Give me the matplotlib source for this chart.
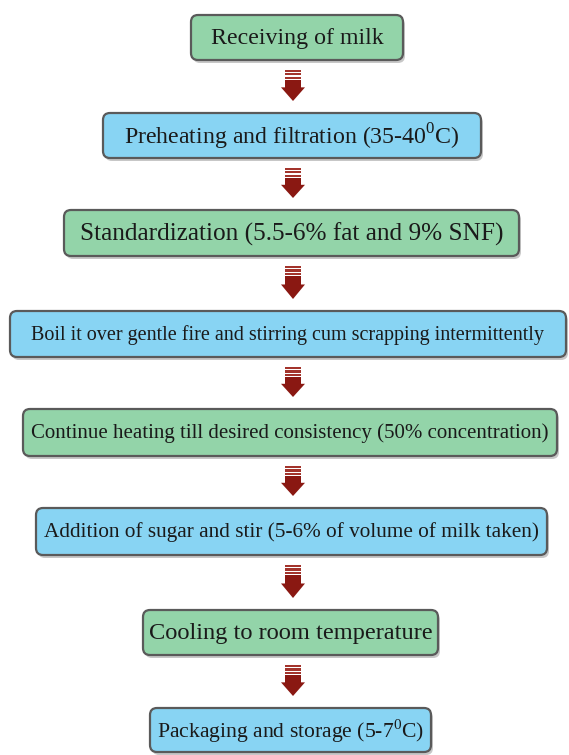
import matplotlib.pyplot as plt
from matplotlib.patches import FancyBboxPatch, Polygon, Rectangle

plt.rcParams['font.family'] = 'Liberation Serif'
plt.rcParams['mathtext.fontset'] = 'custom'
plt.rcParams['mathtext.rm'] = 'Liberation Serif'

# flow steps, top to bottom
steps = [
    "Receiving of milk",
    "Preheating and filtration (35-40$^{\\mathrm{0}}$C)",
    "Standardization (5.5-6% fat and 9% SNF)",
    "Boil it over gentle fire and stirring cum scrapping intermittently",
    "Continue heating till desired consistency (50% concentration)",
    "Addition of sugar and stir (5-6% of volume of milk taken)",
    "Cooling to room temperature",
    "Packaging and storage (5-7$^{\\mathrm{0}}$C)",
]
fills = ['green', 'blue', 'green', 'blue', 'green', 'blue', 'green', 'blue']

# layout in pixels: (left, right, top, bottom) and text width target
boxes = [
    (191, 403, 15, 60),
    (103, 481, 113, 158),
    (64, 519, 210, 256),
    (10, 566, 311, 357),
    (23, 557, 409, 456),
    (36, 547, 508, 555),
    (143, 438, 610, 655),
    (150, 431, 708, 752),
]
text_w = [173, 337, 425, 515, 520, 498, 284, 268]

colors = {'green': '#93d4a9', 'blue': '#88d4f3'}
arrow_col = '#8a1812'

fig = plt.figure(figsize=(5.69, 7.55), dpi=100)
ax = fig.add_axes([0, 0, 1, 1])
ax.set_xlim(0, 569)
ax.set_ylim(755, 0)
ax.axis('off')

fig.canvas.draw()
renderer = fig.canvas.get_renderer()

for i, (label, kind) in enumerate(zip(steps, fills)):
    x0, x1, y0, y1 = boxes[i]
    w, h = x1 - x0, y1 - y0
    # shadow
    sh = FancyBboxPatch((x0 + 2, y0 + 3), w, h, boxstyle="round,pad=0,rounding_size=7",
                        fc='#9a9a9a', ec='none', alpha=0.55, zorder=1)
    ax.add_patch(sh)
    bx = FancyBboxPatch((x0, y0), w, h, boxstyle="round,pad=0,rounding_size=7",
                        fc=colors[kind], ec='#5a5a5a', lw=1.6, zorder=2)
    ax.add_patch(bx)
    t = ax.text((x0 + x1) / 2, (y0 + y1) / 2 + 1, label, ha='center', va='center',
                fontsize=15, color='#1a1a1a', zorder=3)
    tw = t.get_window_extent(renderer).width
    t.set_fontsize(15 * text_w[i] / tw)

    # arrow to next box
    if i < len(steps) - 1:
        top = y1 + 10
        bot = boxes[i + 1][2] - 12
        L = bot - top
        cx = 293
        sw, hw = 8, 12
        for k in range(3):
            ax.add_patch(Rectangle((cx - sw, top + k * 3.4), 2 * sw, 2.1,
                                   fc='#a3342c', ec='none', zorder=2))
        ax.add_patch(Rectangle((cx - sw, top + 10.2), 2 * sw, 0.56 * L - 10.2 + 0.5,
                               fc=arrow_col, ec='none', zorder=2))
        ax.add_patch(Polygon([(cx - hw, top + 0.56 * L), (cx + hw, top + 0.56 * L), (cx, bot)],
                             closed=True, fc=arrow_col, ec='none', zorder=2))

fig.savefig('out.png', dpi=100, facecolor='white')
